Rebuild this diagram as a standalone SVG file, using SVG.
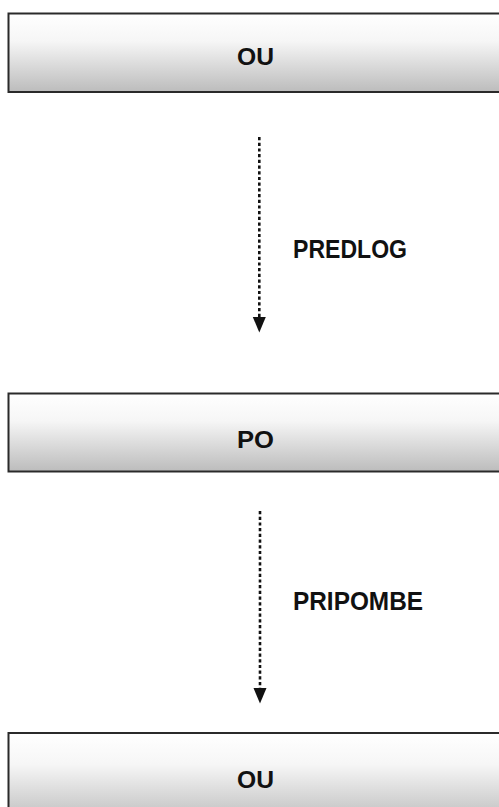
<svg xmlns="http://www.w3.org/2000/svg" width="499" height="807" viewBox="0 0 499 807">
<defs>
<linearGradient id="g" x1="0" y1="0" x2="0" y2="1">
<stop offset="0" stop-color="#ffffff"/>
<stop offset="0.35" stop-color="#f6f6f6"/>
<stop offset="1" stop-color="#bcbcbc"/>
</linearGradient>
<marker id="ah" markerUnits="userSpaceOnUse" markerWidth="14" markerHeight="16" refX="6.5" refY="15" orient="auto-start-reverse" viewBox="0 0 13 16">
<path d="M0,0 L13,0 L6.5,15 Z" fill="#111"/>
</marker>
</defs>
<style>
.box{fill:url(#g);stroke:#2a2a2a;stroke-width:2}
.lbl{font-family:"Liberation Sans",Arial,sans-serif;font-weight:bold;fill:#111}
.conn{stroke:#111;stroke-width:2.6;stroke-dasharray:3.2 2.5;fill:none}
</style>
<rect width="499" height="807" fill="#ffffff"/>
<g id="node-ou-top">
<rect class="box" x="8.5" y="13.5" width="500" height="78.5"/>
<text class="lbl" x="255.5" y="64.5" font-size="23" text-anchor="middle" textLength="37" lengthAdjust="spacingAndGlyphs">OU</text>
</g>
<g id="node-po">
<rect class="box" x="8.5" y="393.5" width="500" height="78"/>
<text class="lbl" x="255.5" y="448" font-size="23" text-anchor="middle" textLength="37" lengthAdjust="spacingAndGlyphs">PO</text>
</g>
<g id="node-ou-bottom">
<rect class="box" x="8.5" y="733" width="500" height="90"/>
<text class="lbl" x="255.5" y="788" font-size="23" text-anchor="middle" textLength="37" lengthAdjust="spacingAndGlyphs">OU</text>
</g>
<g id="connectors">
<line class="conn" x1="259.3" y1="137" x2="259.3" y2="317"/>
<path d="M252.8,317 L265.8,317 L259.3,332.5 Z" fill="#111"/>
<line class="conn" x1="260" y1="511" x2="260" y2="688"/>
<path d="M253.5,688 L266.5,688 L260,703.5 Z" fill="#111"/>
<text class="lbl" x="293" y="258" font-size="25" textLength="114" lengthAdjust="spacingAndGlyphs">PREDLOG</text>
<text class="lbl" x="293" y="610" font-size="25" textLength="130" lengthAdjust="spacingAndGlyphs">PRIPOMBE</text>
</g>
</svg>
